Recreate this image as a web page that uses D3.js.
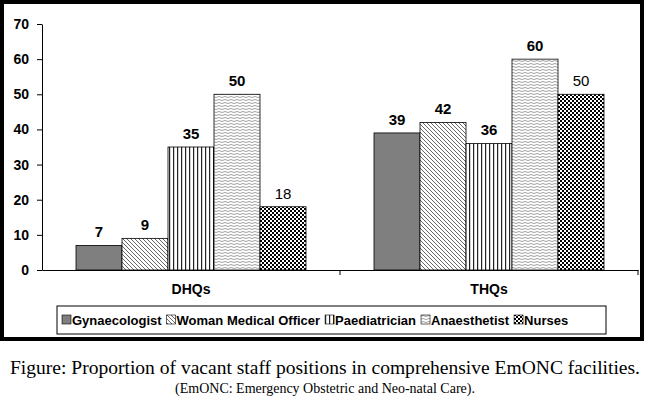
<!DOCTYPE html>
<html><head><meta charset="utf-8">
<script src="https://cdn.jsdelivr.net/npm/d3@7"></script>
<style>body{margin:0;background:#fff}</style>
</head><body>
<svg id="chart" width="650" height="401"></svg>
<script>
let groups = ['DHQs', 'THQs'];
let series = ['Gynaecologist', 'Woman Medical Officer', 'Paediatrician', 'Anaesthetist', 'Nurses'];
let dhqValues = [7, 9, 35, 50, 18];
let thqValues = [39, 42, 36, 60, 50];
let yTicks = [0, 10, 20, 30, 40, 50, 60, 70];

let svg = d3.select('#chart');
let sans = 'Liberation Sans, Arial';

// frame
svg.append('rect').attr('x', 2).attr('y', 2).attr('width', 640).attr('height', 337)
    .attr('fill', '#fff').attr('stroke', '#000').attr('stroke-width', 4);

// patterns
let defs = svg.append('defs');
function pat(id, size, draw) {
    let p = defs.append('pattern').attr('id', id).attr('patternUnits', 'userSpaceOnUse')
        .attr('width', size).attr('height', size);
    p.append('rect').attr('width', size).attr('height', size).attr('fill', '#fff');
    draw(p);
}
pat('p1', 4, p => p.append('path').attr('d', 'M0,0L4,4M-1,3L1,5M3,-1L5,1').attr('stroke', '#555').attr('stroke-width', 0.9));
pat('p2', 4, p => p.append('rect').attr('x', 1).attr('width', 1.2).attr('height', 4).attr('fill', '#222'));
pat('p3', 6, p => p.append('path').attr('d', 'M0,1.5L3,0.5L6,1.5M0,4.5L3,3.5L6,4.5').attr('stroke', '#777').attr('stroke-width', 0.7).attr('fill', 'none'));
pat('p4', 4, p => {
    p.append('rect').attr('width', 2).attr('height', 2).attr('fill', '#000');
    p.append('rect').attr('x', 2).attr('y', 2).attr('width', 2).attr('height', 2).attr('fill', '#000');
});
let fills = ['#7f7f7f', 'url(#p1)', 'url(#p2)', 'url(#p3)', 'url(#p4)'];
let boldLabel = [true, true, true, true, false];

let x = d3.scaleBand().domain(groups).range([42, 638]);
let xs = d3.scaleBand().domain(series).range([0, 230]);
let y = d3.scaleLinear().domain([0, 70]).range([270, 24]);

// axes
let ya = svg.append('g').attr('transform', 'translate(42,0)')
    .call(d3.axisLeft(y).tickValues(yTicks).tickSize(5).tickSizeOuter(0).tickPadding(8));
ya.selectAll('text').attr('font-family', sans).attr('font-size', 14)
    .attr('font-weight', 'bold').attr('fill', '#000');
ya.select('.domain').attr('stroke', '#000');

let xa = svg.append('g').attr('transform', 'translate(0,270)')
    .call(d3.axisBottom(x).tickSize(0).tickSizeOuter(0).tickPadding(14));
xa.selectAll('text').attr('font-family', sans).attr('font-size', 14)
    .attr('font-weight', 'bold').attr('fill', '#000');
xa.select('.domain').attr('stroke', '#000');
svg.append('line').attr('x1', 638).attr('x2', 638).attr('y1', 270).attr('y2', 275).attr('stroke', '#000');
svg.append('line').attr('x1', x('THQs')).attr('x2', x('THQs')).attr('y1', 270).attr('y2', 275).attr('stroke', '#000');

let data = [dhqValues, thqValues];
groups.forEach(function (g, gi) {
    let off = x(g) + (x.bandwidth() - 230) / 2;
    series.forEach(function (s, si) {
        let v = data[gi][si];
        svg.append('rect').attr('x', off + xs(s)).attr('y', y(v))
            .attr('width', xs.bandwidth()).attr('height', 270 - y(v))
            .attr('fill', fills[si]).attr('stroke', '#000').attr('stroke-width', 0.8);
        svg.append('text').attr('x', off + xs(s) + xs.bandwidth() / 2).attr('y', y(v) - 8)
            .attr('text-anchor', 'middle').attr('font-family', sans).attr('fill', '#000')
            .attr('font-size', 15).attr('font-weight', boldLabel[si] ? 'bold' : 'normal')
            .text(v);
    });
});

// legend, laid out by measured text width
svg.append('rect').attr('x', 57).attr('y', 306).attr('width', 549).attr('height', 28)
    .attr('fill', '#fff').attr('stroke', '#000');
let cx = 62;
series.forEach(function (s, i) {
    svg.append('rect').attr('x', cx).attr('y', 315).attr('width', 9).attr('height', 9)
        .attr('fill', fills[i]).attr('stroke', '#000').attr('stroke-width', 0.6);
    let t = svg.append('text').attr('x', cx + 10).attr('y', 325).attr('font-family', sans)
        .attr('font-size', 13).attr('font-weight', 'bold').attr('fill', '#000').text(s);
    cx += 10 + t.node().getComputedTextLength() + 5;
});

// caption
svg.append('text').attr('x', 325).attr('y', 374).attr('text-anchor', 'middle')
    .attr('font-family', 'Liberation Serif, Times New Roman').attr('font-size', 19)
    .attr('textLength', 630).attr('lengthAdjust', 'spacingAndGlyphs')
    .text('Figure: Proportion of vacant staff positions in comprehensive EmONC facilities.');
svg.append('text').attr('x', 325).attr('y', 393).attr('text-anchor', 'middle')
    .attr('font-family', 'Liberation Serif, Times New Roman').attr('font-size', 14)
    .text('(EmONC: Emergency Obstetric and Neo-natal Care).');
</script>
</body></html>
